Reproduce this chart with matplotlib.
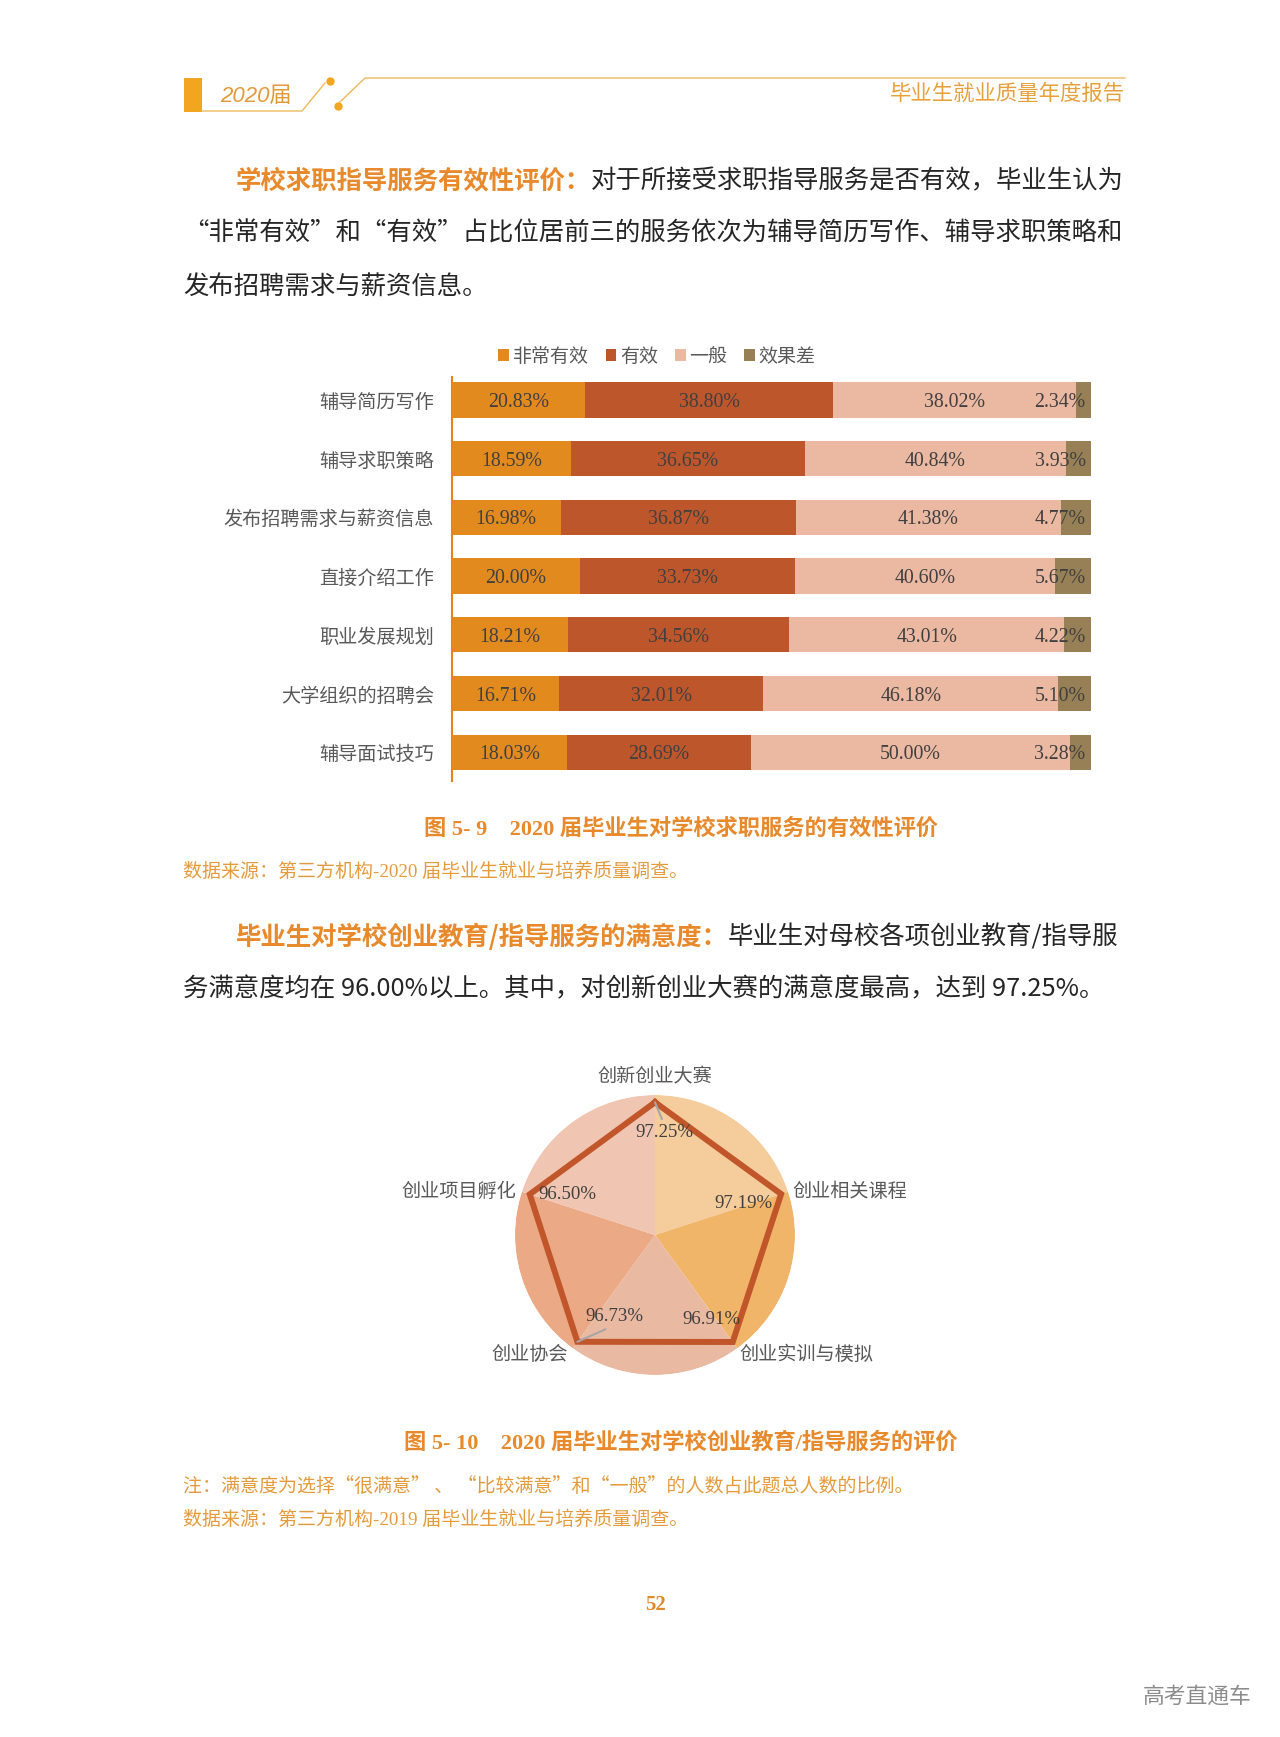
import numpy as np
import matplotlib
matplotlib.use("Agg")
import matplotlib.pyplot as plt
from matplotlib.patches import Rectangle

W, H = 1280, 1737

# bar chart data (图 5-9)
services = ["辅导简历写作", "辅导求职策略", "发布招聘需求与薪资信息", "直接介绍工作",
            "职业发展规划", "大学组织的招聘会", "辅导面试技巧"]
levels = ["非常有效", "有效", "一般", "效果差"]
very_effective = [20.83, 18.59, 16.98, 20.00, 18.21, 16.71, 18.03]
effective = [38.80, 36.65, 36.87, 33.73, 34.56, 32.01, 28.69]
average = [38.02, 40.84, 41.38, 40.60, 43.01, 46.18, 50.00]
poor = [2.34, 3.93, 4.77, 5.67, 4.22, 5.10, 3.28]

# radar data (图 5-10)
radar_items = ["创新创业大赛", "创业相关课程", "创业实训与模拟", "创业协会", "创业项目孵化"]
radar_values = [97.25, 97.19, 96.91, 96.73, 96.50]

CJK = ["Noto Sans CJK SC", "DejaVu Sans"]
SERIF = ["Liberation Serif", "Noto Sans CJK SC"]
ORANGE = "#E8892B"
NOTE = "#E59B3C"
TEXT = "#262626"
GRAY = "#595959"
bar_colors = ["#E38A1F", "#BE562C", "#EBB8A2", "#978056"]
pie_colors = ["#F5CC9C", "#F1B56A", "#EAB9A2", "#EBA986", "#F0C6B2"]

plt.rcParams["font.family"] = CJK

fig = plt.figure(figsize=(W / 100, H / 100), dpi=100)
fig.patch.set_facecolor("white")

# page layer in pixel coordinates
pg = fig.add_axes([0, 0, 1, 1])
pg.set_xlim(0, W)
pg.set_ylim(H, 0)
pg.axis("off")

# header
pg.add_patch(Rectangle((184, 78), 18, 34, color="#F2A51E", lw=0))
pg.plot([202, 302, 325], [111, 111, 83], color="#F0B860", lw=1)
pg.plot([340, 365, 1125], [102, 78, 78], color="#F0B860", lw=1)
pg.plot([330, 338], [81, 106], ls="none", marker="o", ms=5, color="#F2A51E")
pg.text(220, 97, "2020届", fontsize=16, style="italic", color="#E39A3A",
        family=["Liberation Sans", "Noto Sans CJK SC"], va="center", ha="left")
pg.text(1125, 94, "毕业生就业质量年度报告", fontsize=15.4, color="#E8A03A",
        va="center", ha="right")

renderer = fig.canvas.get_renderer()


def run_line(x, y, parts, size=18.3):
    for s, c, w in parts:
        t = pg.text(x, y, s, color=c, fontsize=size, fontweight=w,
                    va="center", ha="left", family=CJK)
        x += t.get_window_extent(renderer).width


run_line(236, 181, [("学校求职指导服务有效性评价：", ORANGE, "bold"),
                    ("对于所接受求职指导服务是否有效，毕业生认为", TEXT, "normal")])
run_line(183, 234, [("“非常有效”和“有效”占比位居前三的服务依次为辅导简历写作、辅导求职策略和", TEXT, "normal")])
run_line(183, 288, [("发布招聘需求与薪资信息。", TEXT, "normal")])

run_line(236, 937, [("毕业生对学校创业教育/指导服务的满意度：", ORANGE, "bold"),
                    ("毕业生对母校各项创业教育/指导服", TEXT, "normal")])
run_line(183, 989, [("务满意度均在 96.00%以上。其中，对创新创业大赛的满意度最高，达到 97.25%。", TEXT, "normal")])

# captions and notes
pg.text(681, 829, "图 5- 9    2020 届毕业生对学校求职服务的有效性评价", fontsize=16,
        fontweight="bold", color=ORANGE, family=SERIF, ha="center", va="center")
pg.text(183, 872, "数据来源：第三方机构-2020 届毕业生就业与培养质量调查。", fontsize=13.7,
        color=NOTE, family=SERIF, ha="left", va="center")
pg.text(681, 1443, "图 5- 10    2020 届毕业生对学校创业教育/指导服务的评价", fontsize=16,
        fontweight="bold", color=ORANGE, family=SERIF, ha="center", va="center")
pg.text(183, 1486, "注：满意度为选择“很满意” 、 “比较满意”和“一般”的人数占此题总人数的比例。",
        fontsize=13.7, color=NOTE, family=CJK, ha="left", va="center")
pg.text(183, 1520, "数据来源：第三方机构-2019 届毕业生就业与培养质量调查。", fontsize=13.7,
        color=NOTE, family=SERIF, ha="left", va="center")
pg.text(655, 1605, "52", fontsize=15, fontweight="bold", color="#E08A2A",
        family=SERIF, ha="center", va="center")
pg.text(1197, 1697, "高考直通车", fontsize=15.7, color="#8C8C8C", ha="center", va="center")

# ---- stacked bar chart ----
ax = fig.add_axes([452 / W, 1 - 781 / H, (1091 - 452) / W, (781 - 377) / H])
y = np.arange(len(services))
left = np.zeros(len(services))
containers = []
for k, (vals, name, col) in enumerate(zip([very_effective, effective, average, poor], levels, bar_colors)):
    c = ax.barh(y, vals, left=left, height=0.6, color=col, label=name)
    containers.append(c)
    for i, v in enumerate(vals):
        if k < 3:
            xy, off, ha = (left[i] + v / 2, y[i]), (0, 0), "center"
        else:
            xy, off, ha = (left[i] + v, y[i]), (-4, 0), "right"
        ax.annotate(f"{v:.2f}%", xy=xy, xytext=off, textcoords="offset points",
                    ha=ha, va="center_baseline", fontsize=14.3, family=SERIF, color="#404040")
    left = left + np.array(vals)

ax.set_xlim(0, 100)
ax.set_ylim(6.49, -0.39)
ax.set_yticks(y)
ax.set_yticklabels(services, fontsize=13.8, color=GRAY)
ax.tick_params(axis="y", length=0, pad=13)
ax.set_xticks([])
for s in ["top", "right", "bottom"]:
    ax.spines[s].set_visible(False)
ax.spines["left"].set_color("#E8821E")
ax.spines["left"].set_linewidth(1.5)
ax.patch.set_alpha(0)

fig.legend(handles=containers, labels=levels, loc="center",
           bbox_to_anchor=(657 / W, 1 - 356 / H), ncol=4, frameon=False,
           prop={"family": CJK, "size": 13.7}, labelcolor=GRAY,
           handlelength=0.55, handleheight=0.55, handletextpad=0.2, columnspacing=0.9)

# ---- radar over pie background ----
RADAR_RMAX = 102.6
rax = fig.add_axes([(655 - 140) / W, 1 - (1235 + 140) / H, 280 / W, 280 / H], projection="polar")
rax.set_theta_zero_location("N")
rax.set_theta_direction(-1)
ang = np.deg2rad(np.arange(len(radar_items)) * 360 / len(radar_items))
step = 2 * np.pi / len(radar_items)
rax.bar(ang + step / 2, RADAR_RMAX, width=step, color=pie_colors, edgecolor="none")
rax.plot(np.append(ang, ang[0]), np.append(radar_values, radar_values[0]),
         color="#C0562A", lw=4.3, solid_joinstyle="miter")
rax.set_ylim(0, RADAR_RMAX)
rax.axis("off")

name_offsets = [(0, 18), (8, 2), (5, -9), (-7, -9), (-10, 2)]
name_ha = ["center", "left", "left", "right", "right"]
value_offsets = [(6.5, -22), (-27, -7), (-15, 16.5), (26.6, 18), (27, 0)]
leader = [True, False, False, True, False]
for i, (name, v) in enumerate(zip(radar_items, radar_values)):
    rax.annotate(name, xy=(ang[i], v), xytext=name_offsets[i], textcoords="offset points",
                 ha=name_ha[i], va="center", fontsize=13.8, color=GRAY, annotation_clip=False)
    arrow = None
    if leader[i]:
        rel = (0.5, 1) if i == 0 else (0.5, 0)
        arrow = dict(arrowstyle="-", color="#A6A6A6", lw=1.5, shrinkA=2, shrinkB=0, relpos=rel)
    rax.annotate(f"{v:.2f}%", xy=(ang[i], v), xytext=value_offsets[i], textcoords="offset points",
                 ha="center", va="center", fontsize=13.6, family=SERIF, color="#404040",
                 arrowprops=arrow, annotation_clip=False)

fig.savefig("out.png", dpi=100, facecolor="white")
